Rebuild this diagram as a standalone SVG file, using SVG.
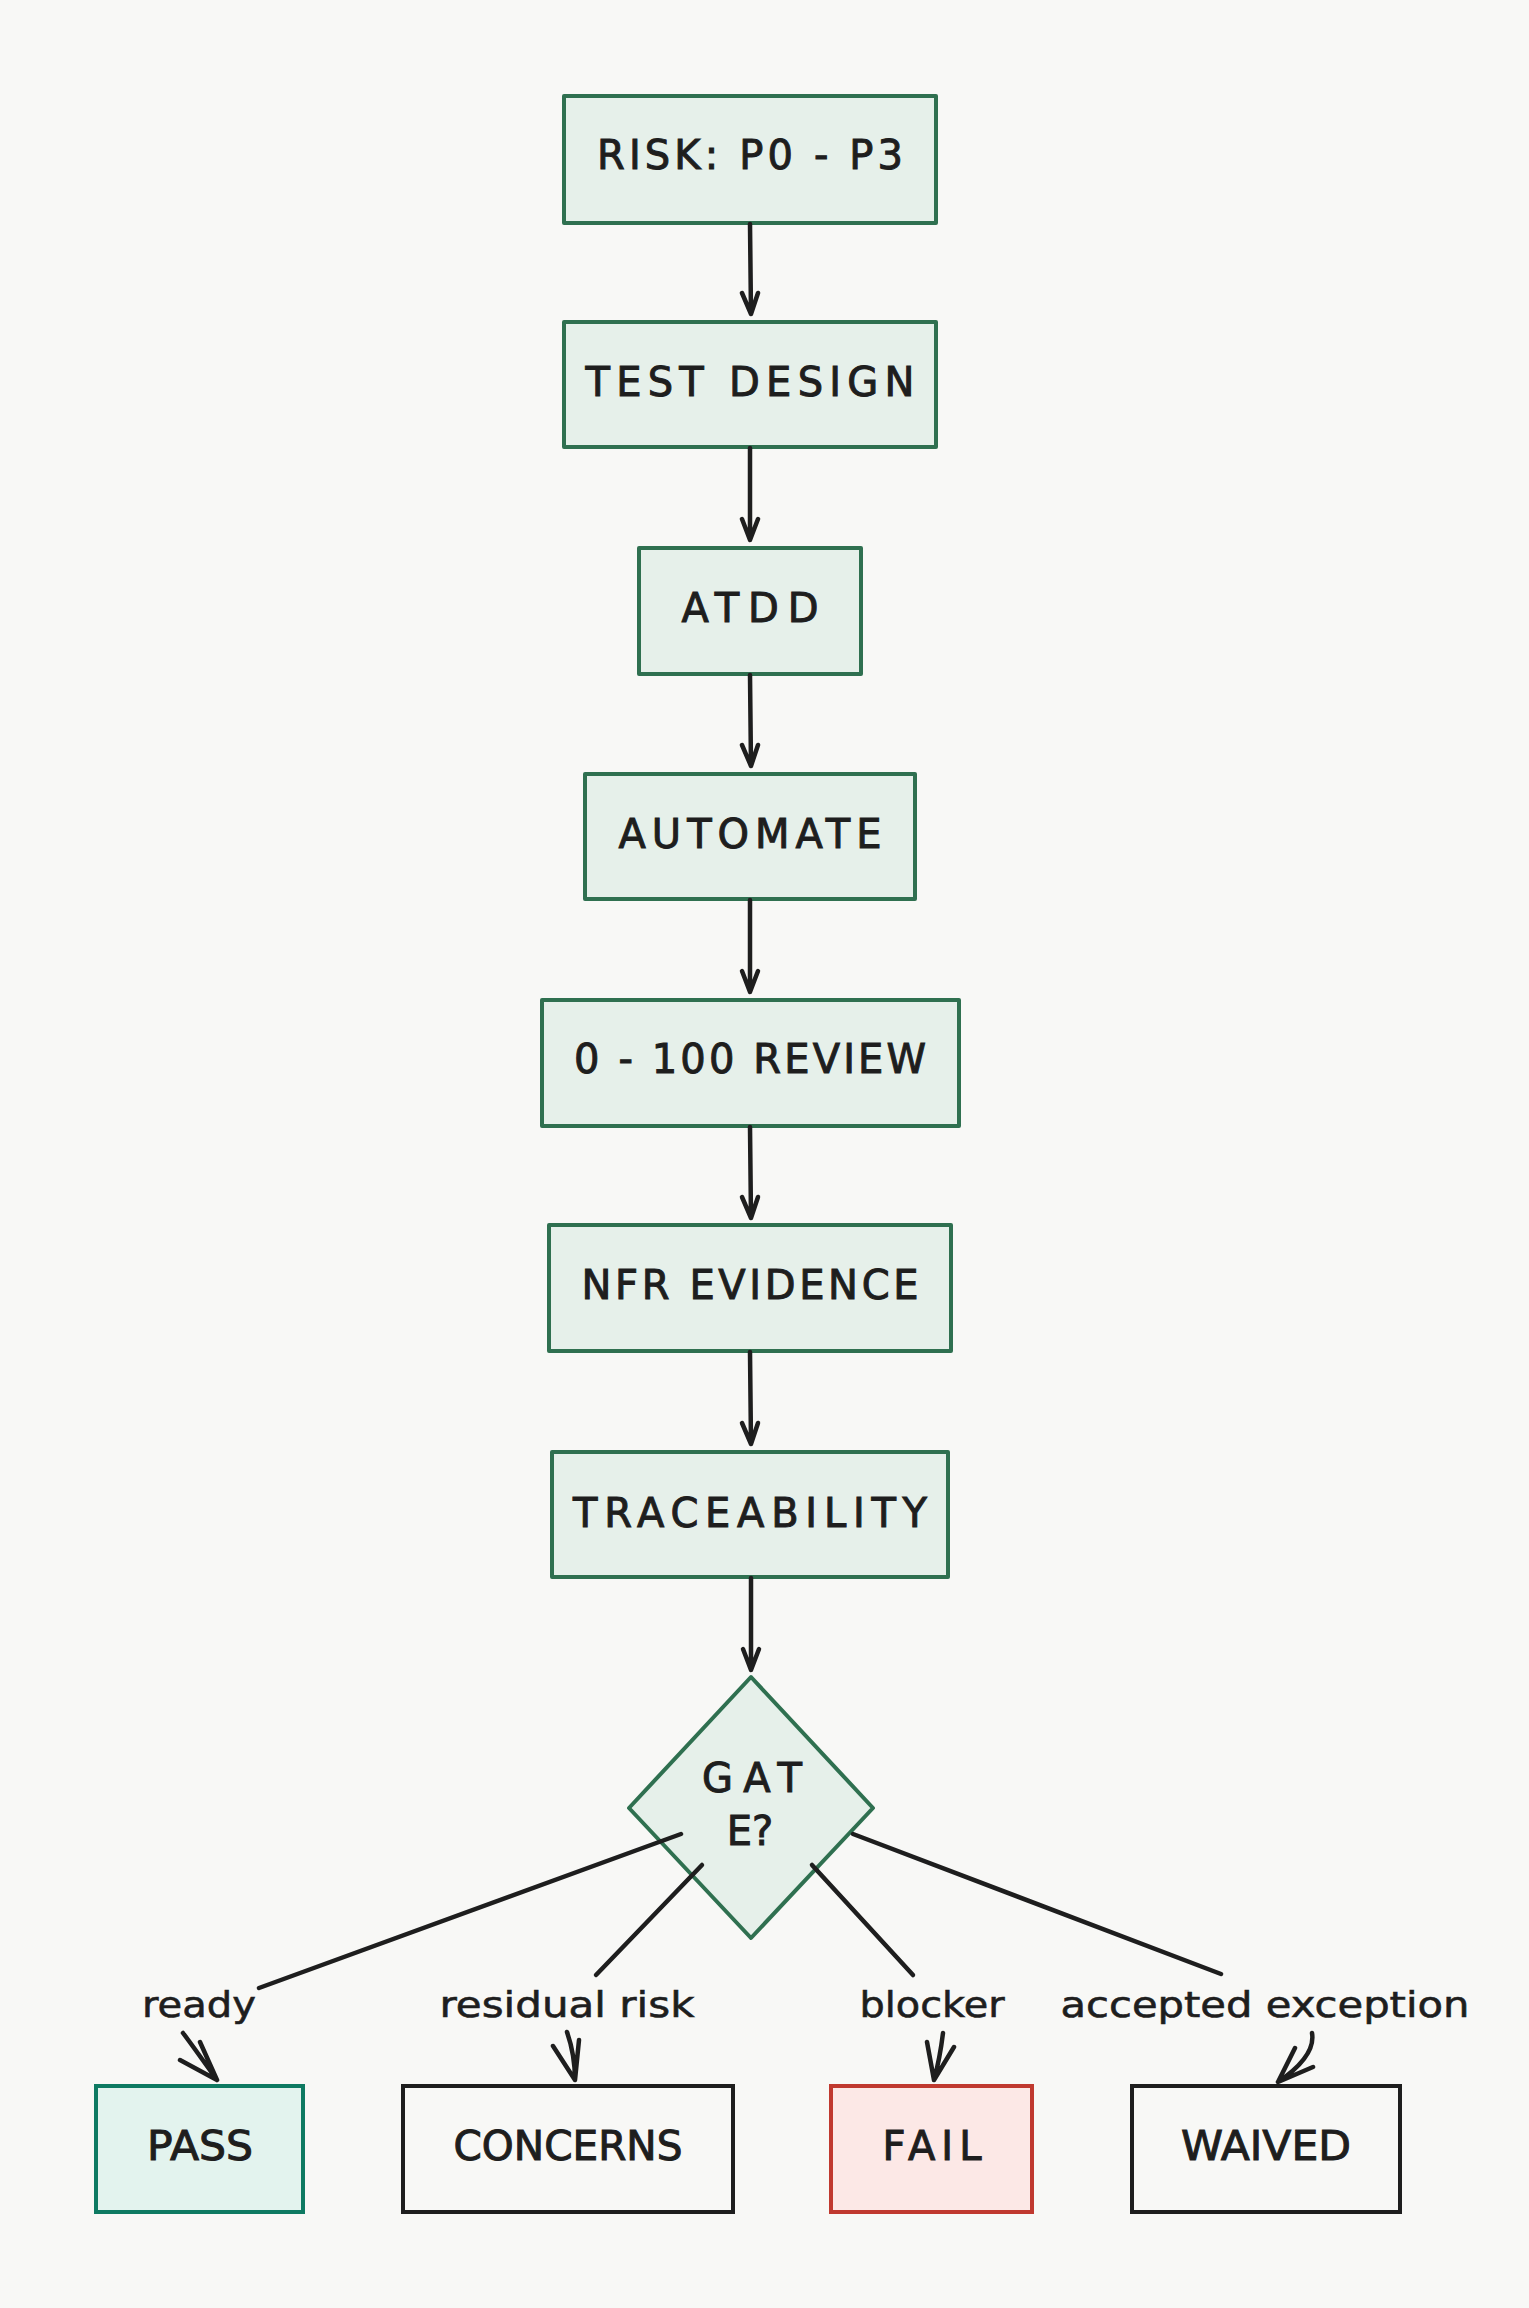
<svg xmlns="http://www.w3.org/2000/svg" width="1529" height="2308" viewBox="0 0 1529 2308">
  <defs>
    <style>
      .bg { fill: #f8f8f6; }
      .step rect, .step polygon { fill: #e6f0ea; stroke: #2f7050; stroke-width: 4; stroke-linejoin: round; }
      .pass rect { fill: #e3f3ee; stroke: #0e7a62; stroke-width: 4; }
      .fail rect { fill: #fce8e6; stroke: #c0392f; stroke-width: 4; }
      .plain rect { fill: none; stroke: #1e1e1e; stroke-width: 4; }
      .ntext { font-family: "DejaVu Sans", "Liberation Sans", sans-serif; font-size: 40px; fill: #1e1e1e; stroke: #1e1e1e; stroke-width: 1; text-anchor: middle; }
      .ltext { font-family: "DejaVu Sans", "Liberation Sans", sans-serif; font-size: 36px; fill: #1e1e1e; stroke: #1e1e1e; stroke-width: 0.6; text-anchor: middle; }
      .edge { fill: none; stroke: #1e1e1e; stroke-width: 4.5; stroke-linecap: round; stroke-linejoin: round; }
    </style>
  </defs>
  <rect class="bg" x="0" y="0" width="1529" height="2308"/>

  <g id="nodes">
    <g id="risk" class="step">
      <rect x="564" y="96" width="372" height="127"/>
      <text class="ntext" x="750" y="169" textLength="306" lengthAdjust="spacing">RISK: P0 - P3</text>
    </g>
    <g id="test-design" class="step">
      <rect x="564" y="322" width="372" height="125"/>
      <text class="ntext" x="750" y="396" textLength="329" lengthAdjust="spacing">TEST DESIGN</text>
    </g>
    <g id="atdd" class="step">
      <rect x="639" y="548" width="222" height="126"/>
      <text class="ntext" x="750" y="622" textLength="137" lengthAdjust="spacing">ATDD</text>
    </g>
    <g id="automate" class="step">
      <rect x="585" y="774" width="330" height="125"/>
      <text class="ntext" x="750" y="848" textLength="263" lengthAdjust="spacing">AUTOMATE</text>
    </g>
    <g id="review" class="step">
      <rect x="542" y="1000" width="417" height="126"/>
      <text class="ntext" x="750" y="1073" textLength="352" lengthAdjust="spacing">0 - 100 REVIEW</text>
    </g>
    <g id="nfr" class="step">
      <rect x="549" y="1225" width="402" height="126"/>
      <text class="ntext" x="750" y="1299" textLength="337" lengthAdjust="spacing">NFR EVIDENCE</text>
    </g>
    <g id="traceability" class="step">
      <rect x="552" y="1452" width="396" height="125"/>
      <text class="ntext" x="750" y="1527" textLength="354" lengthAdjust="spacing">TRACEABILITY</text>
    </g>
    <g id="gate" class="step">
      <polygon points="751,1677 873,1808 751,1938 629,1808"/>
      <text class="ntext" x="752" y="1792" textLength="100" lengthAdjust="spacing">GAT</text>
      <text class="ntext" x="750" y="1845">E?</text>
    </g>
    <g id="pass" class="pass">
      <rect x="96" y="2086" width="207" height="126"/>
      <text class="ntext" x="200" y="2160" textLength="106" lengthAdjust="spacingAndGlyphs">PASS</text>
    </g>
    <g id="concerns" class="plain">
      <rect x="403" y="2086" width="330" height="126"/>
      <text class="ntext" x="568" y="2160" textLength="229" lengthAdjust="spacingAndGlyphs">CONCERNS</text>
    </g>
    <g id="fail" class="fail">
      <rect x="831" y="2086" width="201" height="126"/>
      <text class="ntext" x="932" y="2160" textLength="99" lengthAdjust="spacing">FAIL</text>
    </g>
    <g id="waived" class="plain">
      <rect x="1132" y="2086" width="268" height="126"/>
      <text class="ntext" x="1266" y="2160" textLength="170" lengthAdjust="spacingAndGlyphs">WAIVED</text>
    </g>
  </g>

  <g id="connectors">
    <path class="edge" d="M750,224 L751,314 M742,293 L751,314 L758,293"/>
    <path class="edge" d="M750,448 L750,540 M742,519 L750,540 L758,519"/>
    <path class="edge" d="M750,675 L751,766 M742,745 L751,766 L758,745"/>
    <path class="edge" d="M750,900 L750,992 M742,971 L750,992 L758,971"/>
    <path class="edge" d="M750,1127 L751,1218 M742,1197 L751,1218 L758,1197"/>
    <path class="edge" d="M750,1352 L751,1444 M742,1423 L751,1444 L758,1423"/>
    <path class="edge" d="M751,1578 L751,1670 M743,1649 L751,1670 L759,1649"/>

    <path class="edge" d="M681,1834 L259,1988"/>
    <path class="edge" d="M183,2033 Q192,2045 217,2080 M200,2042 L217,2080 L180,2060"/>
    <text class="ltext" x="199" y="2017" textLength="114" lengthAdjust="spacingAndGlyphs">ready</text>

    <path class="edge" d="M702,1865 L596,1975"/>
    <path class="edge" d="M567,2032 Q575,2055 575,2080 M553,2046 L575,2080 L579,2040"/>
    <text class="ltext" x="567" y="2017" textLength="255" lengthAdjust="spacingAndGlyphs">residual risk</text>

    <path class="edge" d="M812,1865 L913,1975"/>
    <path class="edge" d="M943,2033 Q940,2058 934,2080 M927,2042 L934,2080 L954,2047"/>
    <text class="ltext" x="932" y="2017" textLength="145" lengthAdjust="spacingAndGlyphs">blocker</text>

    <path class="edge" d="M853,1834 L1221,1974"/>
    <path class="edge" d="M1312,2033 Q1316,2056 1278,2082 M1295,2048 L1278,2082 L1313,2067"/>
    <text class="ltext" x="1265" y="2017" textLength="409" lengthAdjust="spacingAndGlyphs">accepted exception</text>
  </g>
</svg>
